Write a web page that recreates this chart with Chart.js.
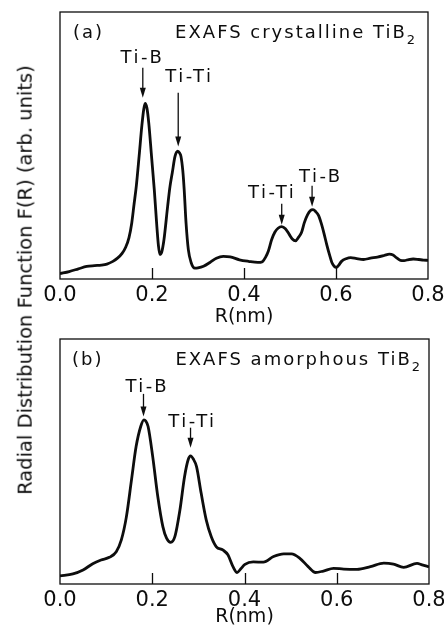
<!DOCTYPE html>
<html>
<head>
<meta charset="utf-8">
<script src="https://cdn.jsdelivr.net/npm/chart.js@4.4.1/dist/chart.umd.min.js"></script>
<style>
html,body{margin:0;padding:0;background:#fff;width:444px;height:630px;overflow:hidden;}
#wrap{position:relative;width:444px;height:630px;}
canvas{position:absolute;left:0;}
#ca{top:0;}
#cb{top:330px;}
#ytitle{position:absolute;left:0;top:0;white-space:nowrap;font-family:'DejaVu Sans';font-size:19.5px;line-height:1.164;color:#0d0d0d;
  transform-origin:0 0;transform:translate(26px,280px) rotate(-90deg) translate(-50%,-50%);}
</style>
</head>
<body>
<div id="wrap">
<canvas id="ca" width="444" height="330"></canvas>
<canvas id="cb" width="444" height="300"></canvas>
<div id="ytitle">Radial Distribution Function F(R) (arb. units)</div>
</div>
<script>
// ---- data ----
const xTicks = [0.0, 0.2, 0.4, 0.6, 0.8];
const xTitle = 'R(nm)';

// (a) crystalline TiB2
const rA = [0.000,0.020,0.040,0.058,0.075,0.090,0.102,0.115,0.125,0.135,0.143,0.150,0.156,0.161,0.166,0.172,0.178,0.182,0.185,0.189,0.193,0.199,0.205,0.210,0.214,0.217,0.221,0.226,0.234,0.239,0.244,0.250,0.256,0.260,0.263,0.267,0.270,0.274,0.279,0.285,0.293,0.300,0.312,0.326,0.340,0.355,0.370,0.390,0.410,0.430,0.440,0.447,0.453,0.460,0.467,0.474,0.482,0.490,0.498,0.505,0.512,0.518,0.525,0.531,0.538,0.544,0.550,0.556,0.562,0.568,0.574,0.580,0.586,0.591,0.596,0.601,0.606,0.612,0.622,0.632,0.645,0.660,0.675,0.690,0.705,0.716,0.724,0.732,0.740,0.748,0.758,0.768,0.780,0.790,0.800];
const fA = [2.0,2.8,3.8,4.7,5.0,5.2,5.6,6.6,7.8,9.6,12.0,15.5,21.0,28.0,35.0,46.0,57.5,63.5,65.8,64.0,58.4,45.9,33.4,21.0,12.5,9.2,10.0,14.7,27.2,34.5,39.7,45.9,47.9,47.2,45.9,40.5,33.4,21.0,11.0,6.2,4.1,4.2,4.8,6.2,7.8,8.5,8.3,7.2,6.6,6.2,6.5,8.2,10.5,14.7,17.5,19.0,19.6,18.8,16.8,15.0,14.3,15.5,17.4,21.0,24.0,25.6,26.0,25.2,23.8,20.8,17.0,12.8,9.0,6.2,4.8,4.4,5.2,6.6,7.6,8.0,7.6,7.3,7.8,8.2,8.8,9.3,9.0,7.9,7.0,6.9,7.3,7.5,7.3,7.1,7.0];
const titleA = ['(a)', 'EXAFS crystalline TiB', '2'];
const peakLabelsA = ['Ti-B','Ti-Ti','Ti-Ti','Ti-B'];
const arrowRA = [0.180,0.257,0.482,0.548];
const arrowTipA = [67.9,49.6,20.3,27.1];
const arrowTailA = [79.1,69.8,28.2,34.9];
const labelRA = [0.177,0.279,0.459,0.565];
const labelLevelA = [81.0,73.9,30.4,36.4];

// (b) amorphous TiB2
const rB = [0.000,0.028,0.050,0.071,0.089,0.107,0.122,0.133,0.144,0.155,0.165,0.175,0.182,0.186,0.191,0.201,0.212,0.223,0.231,0.240,0.249,0.260,0.270,0.278,0.283,0.289,0.296,0.306,0.317,0.328,0.339,0.353,0.364,0.375,0.384,0.392,0.401,0.419,0.441,0.463,0.485,0.502,0.520,0.538,0.554,0.571,0.593,0.615,0.644,0.673,0.702,0.723,0.745,0.774,0.785,0.800];
const fB = [3.3,4.1,5.7,8.3,9.8,10.9,13.2,18.0,27.5,42.5,56.1,64.3,67.0,66.5,64.3,52.0,35.7,23.4,18.7,17.0,19.3,30.2,43.8,50.8,52.3,51.0,47.9,37.1,26.2,19.3,15.2,13.9,11.9,7.1,4.7,6.2,8.0,9.0,8.9,11.2,12.3,12.3,10.5,7.1,4.7,5.3,6.4,6.1,6.0,7.1,8.5,8.1,6.8,8.4,7.8,7.0];
const titleB = ['(b)', 'EXAFS amorphous TiB', '2'];
const peakLabelsB = ['Ti-B','Ti-Ti'];
const arrowRB = [0.181,0.283];
const arrowTipB = [68.4,55.6];
const arrowTailB = [77.6,63.8];
const labelRB = [0.187,0.285];
const labelLevelB = [78.5,64.2];

// ---- drawing ----
const INK = '#0d0d0d';
const FONT = "'DejaVu Sans'";

function panelPlugin(cfg){
  return {
    id:'panel',
    afterDraw(chart){
      const {ctx, chartArea:a, scales:{x,y}} = chart;
      ctx.save();
      ctx.strokeStyle = INK; ctx.fillStyle = INK;
      ctx.lineWidth = 1.3;
      ctx.strokeRect(a.left, a.top, a.right-a.left, a.bottom-a.top);
      // inward ticks
      x.ticks.forEach(t=>{
        if (t.value > x.min + 1e-9 && t.value < x.max - 1e-9){
          const px = Math.round(x.getPixelForValue(t.value)) + 0.5;
          ctx.beginPath(); ctx.moveTo(px, a.bottom); ctx.lineTo(px, a.bottom-11); ctx.stroke();
        }
      });
      // panel titles
      ctx.letterSpacing = '2px';
      ctx.textBaseline = 'alphabetic';
      ctx.font = '18px ' + FONT;
      ctx.textAlign = 'left';
      ctx.fillText(cfg.title[0], a.left + cfg.tl, a.top + cfg.tb);
      ctx.font = '13px ' + FONT;
      const w2 = ctx.measureText(cfg.title[2]).width;
      ctx.fillText(cfg.title[2], a.right - cfg.tr - w2, a.top + cfg.sb);
      ctx.font = '18px ' + FONT;
      ctx.textAlign = 'right';
      ctx.fillText(cfg.title[1], a.right - cfg.tr - w2, a.top + cfg.tb);
      // peak labels + arrows
      ctx.letterSpacing = '2.5px';
      ctx.textAlign = 'center';
      ctx.font = '18px ' + FONT;
      cfg.labels.forEach((lab,i)=>{
        ctx.fillText(lab, x.getPixelForValue(cfg.labelR[i]) + 1, y.getPixelForValue(cfg.labelLevel[i]));
        const ax = x.getPixelForValue(cfg.arrowR[i]);
        const yTip = y.getPixelForValue(cfg.arrowTip[i]);
        const yTail = y.getPixelForValue(cfg.arrowTail[i]);
        ctx.lineWidth = 1.3;
        ctx.beginPath(); ctx.moveTo(ax, yTail); ctx.lineTo(ax, yTip-6); ctx.stroke();
        ctx.beginPath(); ctx.moveTo(ax-3, yTip-10); ctx.lineTo(ax+3, yTip-10); ctx.lineTo(ax, yTip); ctx.closePath(); ctx.fill();
      });
      ctx.restore();
    }
  };
}

function makeChart(id, r, f, cfg){
  new Chart(document.getElementById(id), {
    type:'line',
    data:{ datasets:[{ data: r.map((v,i)=>({x:v, y:f[i]})), borderColor:INK, borderWidth:2.8, pointRadius:0, fill:false, cubicInterpolationMode:'monotone' }] },
    options:{
      responsive:false, animation:false, events:[],
      layout:{ padding:{ left:60, right:cfg.padRight, top:cfg.padTop, bottom:0 } },
      plugins:{ legend:{display:false}, tooltip:{enabled:false} },
      scales:{
        x:{ type:'linear', min:0, max:0.8,
          afterBuildTicks:s=>{ s.ticks = xTicks.map(v=>({value:v})); },
          ticks:{ callback:v=>Number(v).toFixed(1), color:INK, font:{family:FONT, size:21}, padding:cfg.tickPad, maxRotation:0, autoSkip:false },
          grid:{ display:false, drawTicks:false }, border:{ display:false },
          title:{ display:true, text:xTitle, color:INK, font:{family:FONT, size:19}, padding:{top:0, bottom:2} },
          afterFit:s=>{ s.height = cfg.axisH; s.paddingLeft = 0; s.paddingRight = 0; }
        },
        y:{ type:'linear', min:0, max:100, display:false }
      }
    },
    plugins:[panelPlugin(cfg)]
  });
}

makeChart('ca', rA, fA, { padRight:16, padTop:12, axisH:51, tickPad:4,
  title:titleA, tl:13, tr:11, tb:26, sb:32,
  labels:peakLabelsA, arrowR:arrowRA, arrowTip:arrowTipA, arrowTail:arrowTailA, labelR:labelRA, labelLevel:labelLevelA });
makeChart('cb', rB, fB, { padRight:15, padTop:9, axisH:46, tickPad:4,
  title:titleB, tl:12, tr:7, tb:26, sb:32,
  labels:peakLabelsB, arrowR:arrowRB, arrowTip:arrowTipB, arrowTail:arrowTailB, labelR:labelRB, labelLevel:labelLevelB });
</script>
</body>
</html>
